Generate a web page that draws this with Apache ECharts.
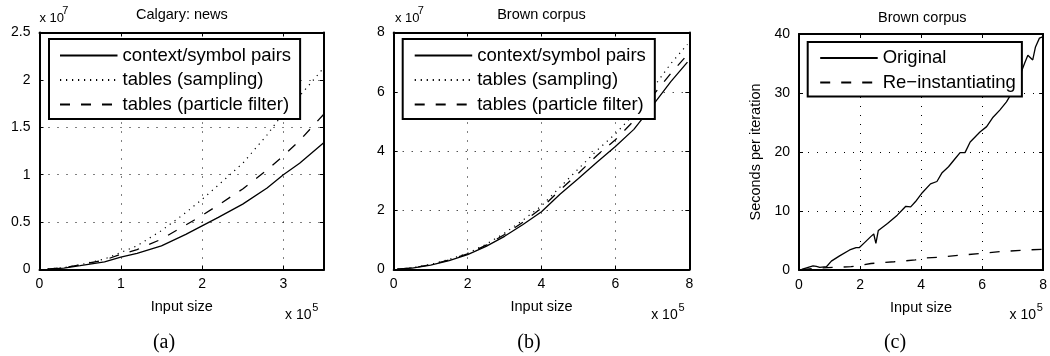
<!DOCTYPE html>
<html><head><meta charset="utf-8">
<script src="https://cdn.jsdelivr.net/npm/echarts@6/dist/echarts.min.js"></script>
<style>html,body{margin:0;padding:0;background:#fff}#c{width:1050px;height:356px}</style>
</head><body><div id="c"></div>
<script>
// ---------- data ----------
// Panel (a): Calgary news  (x in 1e5, y in 1e7)
const A_X     = [0.1, 0.3, 0.5, 0.8, 1.0, 1.2, 1.5, 1.8, 2.0, 2.2, 2.5, 2.8, 3.0, 3.2, 3.5];
const A_PAIRS = [0.005, 0.015, 0.04, 0.08, 0.13, 0.17, 0.25, 0.37, 0.46, 0.55, 0.69, 0.86, 1.0, 1.12, 1.34];
const A_SAMP  = [0.005, 0.02, 0.05, 0.11, 0.18, 0.25, 0.41, 0.6, 0.74, 0.89, 1.12, 1.42, 1.65, 1.83, 2.13];
const A_PF    = [0.005, 0.02, 0.05, 0.1, 0.16, 0.21, 0.32, 0.47, 0.57, 0.68, 0.85, 1.05, 1.2, 1.36, 1.64];
// Panel (b): Brown corpus (x in 1e5, y in 1e7)
const B_X     = [0.1, 0.5, 1, 1.5, 2, 2.5, 3, 3.5, 4, 4.5, 5, 5.5, 6, 6.5, 7, 7.5, 7.95];
const B_PAIRS = [0.01, 0.05, 0.15, 0.3, 0.5, 0.78, 1.12, 1.52, 1.95, 2.54, 3.07, 3.62, 4.15, 4.73, 5.52, 6.34, 7.0];
const B_SAMP  = [0.01, 0.06, 0.17, 0.34, 0.55, 0.85, 1.23, 1.67, 2.15, 2.78, 3.4, 4.02, 4.58, 5.24, 6.1, 6.95, 7.6];
const B_PF    = [0.01, 0.05, 0.16, 0.32, 0.53, 0.82, 1.18, 1.6, 2.07, 2.68, 3.25, 3.85, 4.38, 5.02, 5.85, 6.62, 7.25];
// Panel (c): seconds per iteration
const C_ORIG_X = [0.09,0.3,0.46,0.57,0.68,0.9,1.06,1.33,1.66,1.87,1.98,2.14,2.36,2.45,2.52,2.6,2.9,3.22,3.39,3.5,3.66,3.82,4.04,4.31,4.52,4.69,4.9,5.12,5.28,5.44,5.61,5.93,6.15,6.36,6.58,6.8,6.96,7.23,7.39,7.5,7.66,7.75,7.88,7.98];
const C_ORIG_Y = [0.1,0.45,0.7,0.6,0.45,0.56,1.5,2.4,3.4,3.8,3.8,4.6,5.7,6.1,4.5,6.7,7.9,9.3,10.2,10.8,10.7,11.6,13.1,14.6,15.0,16.5,17.5,18.9,19.9,19.9,21.7,23.4,24.3,25.9,27.1,28.5,29.9,32.8,35.0,36.4,35.6,37.8,39.3,39.5];
const C_RE_X = [0.09, 0.5, 1.17, 1.71, 2.36, 3.12, 3.82, 3.97, 4.52, 5.28, 5.93, 6.58, 7.45, 7.95];
const C_RE_Y = [0.05, 0.3, 0.45, 0.56, 1.1, 1.4, 1.7, 2.0, 2.15, 2.5, 2.8, 3.1, 3.4, 3.5];
// axis ranges
const A_XMAX = 3.5, A_YMAX = 2.5, B_XMAX = 8, B_YMAX = 8, C_XMAX = 8, C_YMAX = 40;
const NAMES_AB = ['context/symbol pairs', 'tables (sampling)', 'tables (particle filter)'];
const NAMES_C = ['Original', 'Re\u2212instantiating'];

// ---------- chart ----------
const FONT = '"Liberation Sans", Arial, Helvetica, sans-serif';
const SERIF = '"Liberation Serif", "Times New Roman", serif';
const zip = (xs, ys) => xs.map((x, i) => [x, ys[i]]);
const grids = [
  {left: 39.5, top: 32.5, width: 284.5, height: 237},
  {left: 393.7, top: 32.5, width: 295.6, height: 237},
  {left: 799, top: 34, width: 246.3, height: 236}
];
const axLine = {show: true, onZero: false, lineStyle: {color: '#000', width: 2}};
const tick = {show: true, inside: true, length: 4, lineStyle: {color: '#000', width: 1}};
const gridLine = {show: true, lineStyle: {color: '#000', width: 1, type: [1, 8]}};
const lbl = {color: '#000', fontSize: 14, fontFamily: FONT, margin: 8};

function xAxes(gi, max, interval) {
  return [
    {type: 'value', gridIndex: gi, min: 0, max: max, interval: interval, position: 'bottom',
     name: 'Input size', nameLocation: 'middle', nameGap: 30,
     nameTextStyle: {color: '#000', fontSize: 14.5, fontFamily: FONT},
     axisLine: axLine, axisTick: tick, splitLine: gridLine,
     axisLabel: Object.assign({}, lbl, {showMaxLabel: max % interval === 0})},
    {type: 'value', gridIndex: gi, min: 0, max: max, interval: interval, position: 'top',
     axisLine: axLine, axisTick: tick, splitLine: {show: false}, axisLabel: {show: false}}
  ];
}
function yAxes(gi, max, interval, name) {
  const main = {type: 'value', gridIndex: gi, min: 0, max: max, interval: interval, position: 'left',
     axisLine: axLine, axisTick: tick, splitLine: gridLine,
     axisLabel: Object.assign({}, lbl, {margin: 9})};
  if (name) {
    main.name = name; main.nameLocation = 'middle'; main.nameGap = 36;
    main.nameTextStyle = {color: '#000', fontSize: 14.5, fontFamily: FONT};
  }
  return [main,
    {type: 'value', gridIndex: gi, min: 0, max: max, interval: interval, position: 'right',
     axisLine: axLine, axisTick: tick, splitLine: {show: false}, axisLabel: {show: false}}];
}

const SOLID = {color: '#000', width: 1.3, type: 'solid'};
const DOT = {color: '#000', width: 1.2, type: [1.2, 4.8]};
const DASH = {color: '#000', width: 1.3, type: [10, 11]};
function ser(name, gi, data, style) {
  return {type: 'line', name: name, xAxisIndex: gi * 2, yAxisIndex: gi * 2, data: data,
    showSymbol: false, symbol: 'none', lineStyle: style, itemStyle: {color: '#000'},
    animation: false, z: 3, emphasis: {disabled: true}};
}

const legendBase = {
  orient: 'vertical', itemWidth: 57.5, itemHeight: 14, itemGap: 5.5,
  backgroundColor: '#fff', borderColor: '#000', borderWidth: 2, borderRadius: 0,
  itemStyle: {opacity: 0, borderWidth: 0},
  textStyle: {color: '#000', fontSize: 18.5, fontFamily: FONT},
  selectedMode: false, z: 10
};

function txt(text, x, y, size, align, font) {
  return {type: 'text', x: x, y: y, z: 20,
    style: {text: text, fill: '#000', font: size + 'px ' + (font || FONT),
            align: align || 'center', verticalAlign: 'middle'}};
}

const option = {
  animation: false,
  backgroundColor: '#fff',
  grid: grids,
  xAxis: [].concat(xAxes(0, A_XMAX, 1), xAxes(1, B_XMAX, 2), xAxes(2, C_XMAX, 2)),
  yAxis: [].concat(yAxes(0, A_YMAX, 0.5), yAxes(1, B_YMAX, 2), yAxes(2, C_YMAX, 10, 'Seconds per iteration')),
  legend: [
    Object.assign({}, legendBase, {left: 49, top: 39, padding: [7, 9, 5, 10], data: NAMES_AB.map(n => ({name: n}))}),
    Object.assign({}, legendBase, {left: 402.7, top: 39, padding: [7, 9, 5, 11], data: NAMES_AB.map(n => ({name: n}))}),
    Object.assign({}, legendBase, {left: 807.7, top: 42, padding: [6.5, 6, 4.5, 11.5], data: NAMES_C.map(n => ({name: n}))})
  ],
  series: [
    ser(NAMES_AB[0], 0, zip(A_X, A_PAIRS), SOLID),
    ser(NAMES_AB[1], 0, zip(A_X, A_SAMP), DOT),
    ser(NAMES_AB[2], 0, zip(A_X, A_PF), DASH),
    ser(NAMES_AB[0], 1, zip(B_X, B_PAIRS), SOLID),
    ser(NAMES_AB[1], 1, zip(B_X, B_SAMP), DOT),
    ser(NAMES_AB[2], 1, zip(B_X, B_PF), DASH),
    ser(NAMES_C[0], 2, zip(C_ORIG_X, C_ORIG_Y), SOLID),
    ser(NAMES_C[1], 2, zip(C_RE_X, C_RE_Y), DASH)
  ],
  graphic: [
    txt('Calgary: news', 181.9, 15, 14.5),
    txt('Brown corpus', 541.5, 15, 14.5),
    txt('Brown corpus', 922.3, 18.3, 14.5),
    txt('x 10', 39.5, 18.7, 13, 'left'), txt('7', 62.3, 10.5, 11, 'left'),
    txt('x 10', 395, 18.7, 13, 'left'), txt('7', 417.8, 10.5, 11, 'left'),
    txt('x 10', 285, 315, 14, 'left'), txt('5', 312.3, 307.5, 11, 'left'),
    txt('x 10', 651.2, 315, 14, 'left'), txt('5', 678.5, 307.5, 11, 'left'),
    txt('x 10', 1009.5, 315, 14, 'left'), txt('5', 1036.8, 307.5, 11, 'left'),
    txt('(a)', 164, 342.5, 20, 'center', SERIF),
    txt('(b)', 529, 342.5, 20, 'center', SERIF),
    txt('(c)', 895, 342.5, 20, 'center', SERIF)
  ]
};
const chart = echarts.init(document.getElementById('c'), null, {renderer: 'canvas'});
chart.setOption(option);
</script></body></html>
